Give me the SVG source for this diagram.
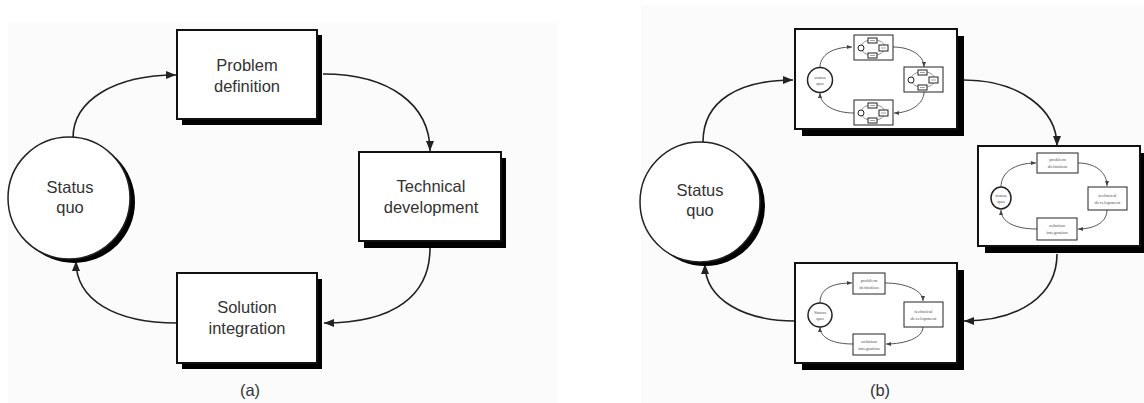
<svg xmlns="http://www.w3.org/2000/svg" xmlns:xlink="http://www.w3.org/1999/xlink" width="1144" height="403" viewBox="0 0 1144 403">
<style>
.box{fill:#fff;stroke:#111;stroke-width:2}
.sh{fill:#000}
.t{font-family:"Liberation Sans",Arial,sans-serif;font-size:16.5px;fill:#333;text-anchor:middle}
.c{fill:none;stroke:#222;stroke-width:1.6}
.n{fill:#fff;stroke:#222;stroke-width:1.5}
.ct{fill:none;stroke:#555;stroke-width:1}
.tiny{font-family:"Liberation Serif",serif;font-size:5px;fill:#555;text-anchor:middle}
.mb{fill:#fff;stroke:#222;stroke-width:1}
</style>
<defs>
<marker id="ah" markerUnits="userSpaceOnUse" markerWidth="10" markerHeight="8" refX="10" refY="4" orient="auto"><path d="M0,0 L10,4 L0,8 z" fill="#222"/></marker>
<marker id="as" markerUnits="userSpaceOnUse" markerWidth="5" markerHeight="4" refX="5" refY="2" orient="auto"><path d="M0,0 L5,2 L0,4 z" fill="#444"/></marker>
<g id="micro">
<rect x="0" y="0" width="39" height="25" class="mb" stroke-width="1.4"/>
<ellipse cx="19" cy="12.5" rx="12" ry="8" fill="none" stroke="#777" stroke-width="0.8"/>
<circle cx="7" cy="13" r="3" class="mb"/>
<rect x="14" y="3" width="9" height="5" class="mb"/>
<rect x="25" y="10" width="9" height="6" class="mb"/>
<rect x="14" y="18" width="9" height="5" class="mb"/>
<line x1="16" y1="5.5" x2="21" y2="5.5" stroke="#888" stroke-width="0.8"/>
<line x1="27" y1="13" x2="32" y2="13" stroke="#888" stroke-width="0.8"/>
<line x1="16" y1="20.5" x2="21" y2="20.5" stroke="#888" stroke-width="0.8"/>
</g>
</defs>
<rect width="1144" height="403" fill="#fff"/>
<rect x="8" y="23" width="549" height="380" fill="#fbfbfb"/>
<rect x="641" y="5" width="503" height="398" fill="#fbfbfb"/>

<g id="connectors">
<path class="c" d="M73,138 C73,100 115,75 176,75" marker-end="url(#ah)"/>
<path class="c" d="M323,74 C390,74 430,105 430,151" marker-end="url(#ah)"/>
<path class="c" d="M430,248 C430,295 395,323 324,323" marker-end="url(#ah)"/>
<path class="c" d="M177,323 C115,323 76,300 76,261" marker-end="url(#ah)"/>
<path class="c" d="M703,142 C703,100 740,80 793,80" marker-end="url(#ah)"/>
<path class="c" d="M963,80 C1020,80 1057,110 1057,146" marker-end="url(#ah)"/>
<path class="c" d="M1057,254 C1057,295 1020,321 964,321" marker-end="url(#ah)"/>
<path class="c" d="M795,321 C745,321 705,300 705,264" marker-end="url(#ah)"/>
</g>

<g id="a-status">
<circle cx="74" cy="202" r="61" class="sh"/>
<circle cx="69" cy="198" r="61" class="n" stroke-width="2"/>
<text class="t" x="70" y="193">Status</text>
<text class="t" x="70" y="213">quo</text>
</g>
<g id="a-problem">
<rect x="182" y="35" width="140" height="90" class="sh"/>
<rect x="177" y="30" width="140" height="89" class="box"/>
<text class="t" x="247" y="71">Problem</text>
<text class="t" x="247" y="92">definition</text>
</g>
<g id="a-technical">
<rect x="364" y="158" width="142" height="90" class="sh"/>
<rect x="359" y="152" width="142" height="89" class="box"/>
<text class="t" x="431" y="192">Technical</text>
<text class="t" x="431" y="213">development</text>
</g>
<g id="a-solution">
<rect x="182" y="279" width="140" height="90" class="sh"/>
<rect x="177" y="273" width="140" height="90" class="box"/>
<text class="t" x="247" y="313">Solution</text>
<text class="t" x="247" y="334">integration</text>
</g>
<text class="t" x="250" y="396" font-size="14">(a)</text>

<g id="b-status">
<circle cx="705" cy="206" r="60" class="sh"/>
<circle cx="700" cy="202" r="60" class="n" stroke-width="2"/>
<text class="t" x="700" y="196">Status</text>
<text class="t" x="700" y="216">quo</text>
</g>

<g id="b-top">
<rect x="802" y="36" width="162" height="100" class="sh"/>
<rect x="795" y="29" width="162" height="100" class="box"/>
<path class="ct" d="M820,67 C820,55 833,47 852,47" marker-end="url(#as)"/>
<path class="ct" d="M893,47 C910,47 924,55 924,67" marker-end="url(#as)"/>
<path class="ct" d="M924,92 C924,104 910,113 894,113" marker-end="url(#as)"/>
<path class="ct" d="M854,113 C835,113 820,105 820,93" marker-end="url(#as)"/>
<circle cx="820" cy="80" r="12.5" class="n"/>
<text class="tiny" x="820" y="79">status</text>
<text class="tiny" x="820" y="85">quo</text>
<use xlink:href="#micro" x="854" y="35"/>
<use xlink:href="#micro" x="904" y="67"/>
<use xlink:href="#micro" x="854" y="100"/>
</g>

<g id="b-right">
<rect x="985" y="153" width="162" height="100" class="sh"/>
<rect x="978" y="146" width="162" height="100" class="box"/>
<path class="ct" d="M1001,187 C1001,172 1015,163 1036,163" marker-end="url(#as)"/>
<path class="ct" d="M1078,163 C1095,163 1107,172 1107,186" marker-end="url(#as)"/>
<path class="ct" d="M1107,210 C1107,222 1095,229 1078,229" marker-end="url(#as)"/>
<path class="ct" d="M1037,229 C1015,229 1001,222 1001,210" marker-end="url(#as)"/>
<ellipse cx="1001" cy="198" rx="10" ry="11" class="n"/>
<text class="tiny" x="1001" y="197">status</text>
<text class="tiny" x="1001" y="203">quo</text>
<rect x="1037" y="153" width="41" height="20" class="mb"/>
<text class="tiny" x="1057.5" y="161">problem</text>
<text class="tiny" x="1057.5" y="168">definition</text>
<rect x="1088" y="187" width="39" height="23" class="mb"/>
<text class="tiny" x="1107.5" y="197">technical</text>
<text class="tiny" x="1107.5" y="204">development</text>
<rect x="1037" y="218" width="40" height="22" class="mb"/>
<text class="tiny" x="1057" y="227">solution</text>
<text class="tiny" x="1057" y="234">integration</text>
</g>

<g id="b-bottom">
<rect x="802" y="270" width="162" height="100" class="sh"/>
<rect x="795" y="263" width="162" height="100" class="box"/>
<path class="ct" d="M820,303 C820,288 833,283 852,283" marker-end="url(#as)"/>
<path class="ct" d="M885,283 C905,283 923,290 923,301" marker-end="url(#as)"/>
<path class="ct" d="M923,327 C923,338 905,344 886,344" marker-end="url(#as)"/>
<path class="ct" d="M853,344 C833,344 820,338 820,327" marker-end="url(#as)"/>
<circle cx="820" cy="315" r="12" class="n"/>
<text class="tiny" x="820" y="314">Status</text>
<text class="tiny" x="820" y="320">quo</text>
<rect x="853" y="273" width="32" height="21" class="mb"/>
<text class="tiny" x="869" y="282">problem</text>
<text class="tiny" x="869" y="289">definition</text>
<rect x="904" y="302" width="39" height="25" class="mb"/>
<text class="tiny" x="923.5" y="313">technical</text>
<text class="tiny" x="923.5" y="320">development</text>
<rect x="853" y="334" width="32" height="21" class="mb"/>
<text class="tiny" x="869" y="343">solution</text>
<text class="tiny" x="869" y="350">integration</text>
</g>
<text class="t" x="880" y="396" font-size="14">(b)</text>
</svg>
